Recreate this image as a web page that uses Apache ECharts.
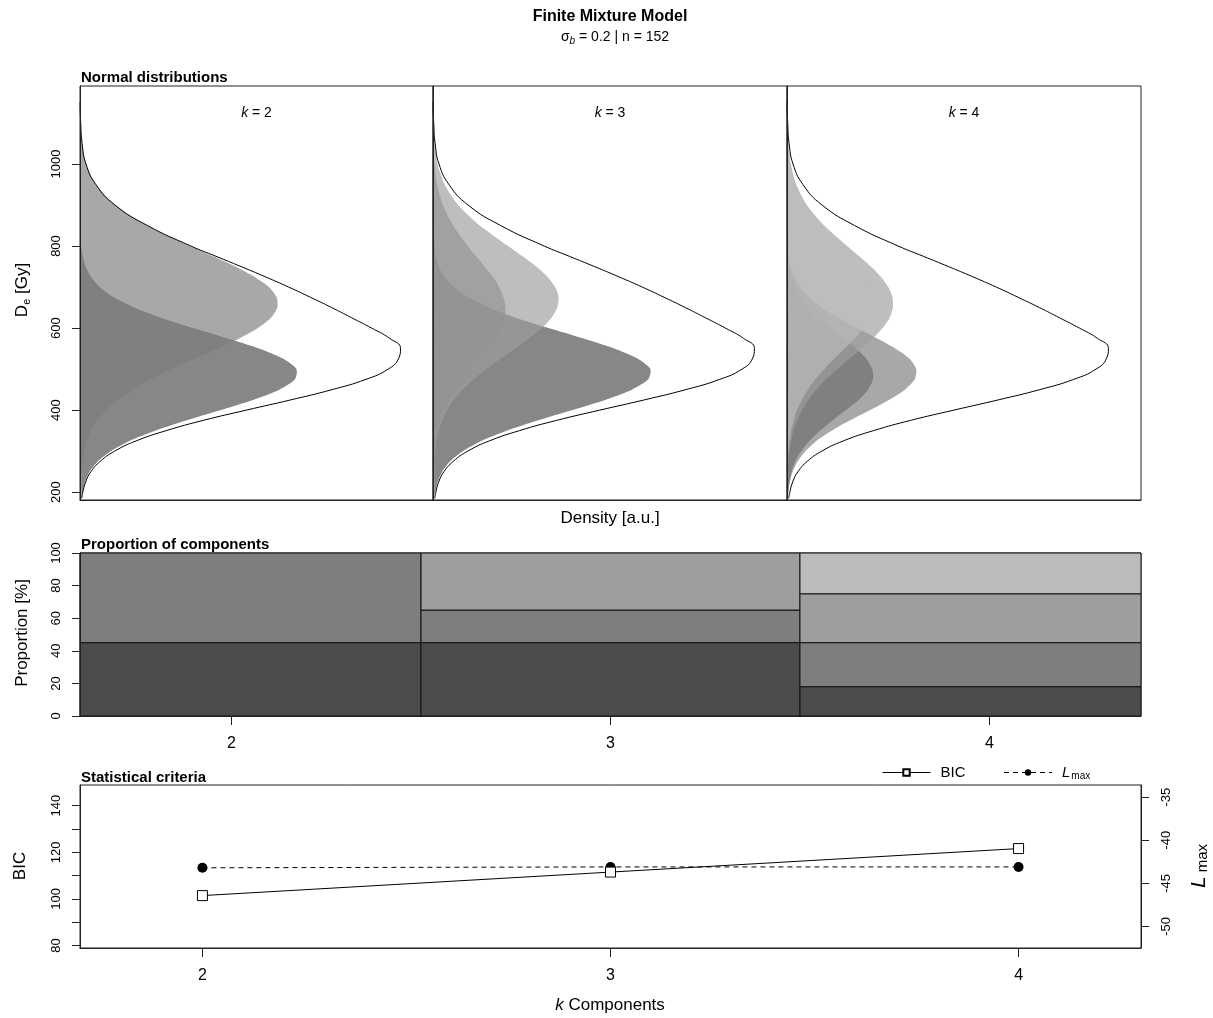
<!DOCTYPE html>
<html>
<head>
<meta charset="utf-8">
<script src="https://cdn.jsdelivr.net/npm/echarts@6/dist/echarts.min.js"></script>
<style>
  html, body { margin: 0; padding: 0; background: #fff; }
  #chart { width: 1213px; height: 1018px; }
</style>
</head>
<body>
<div id="chart"></div>
<script>
const deLevels = [185, 200, 225, 250, 275, 300, 325, 350, 375, 400, 425, 450, 475, 500, 525, 550, 575, 600, 625, 650, 675, 700, 725, 750, 775, 800, 850, 900, 950, 1000, 1050, 1100, 1150];

// black outline (sum of components), same in every panel; density as fraction of panel width
const sumDensity = [0.005, 0.008, 0.016, 0.031, 0.057, 0.098, 0.159, 0.244, 0.349, 0.471, 0.597, 0.714, 0.810, 0.873, 0.902, 0.908, 0.877, 0.826, 0.770, 0.713, 0.653, 0.591, 0.525, 0.456, 0.385, 0.314, 0.191, 0.099, 0.045, 0.017, 0.006, 0.002, 0.0004];

// k = 2
const k2Comp1 = [0.004, 0.007, 0.014, 0.027, 0.050, 0.087, 0.140, 0.213, 0.300, 0.397, 0.490, 0.565, 0.609, 0.613, 0.576, 0.507, 0.417, 0.320, 0.229, 0.154, 0.096, 0.056, 0.031, 0.016, 0.008, 0.003, 0.001, 0, 0, 0, 0, 0, 0];
const k2Comp2 = [0.001, 0.001, 0.002, 0.004, 0.007, 0.011, 0.019, 0.031, 0.049, 0.074, 0.107, 0.149, 0.201, 0.260, 0.324, 0.390, 0.452, 0.504, 0.541, 0.559, 0.557, 0.535, 0.494, 0.440, 0.377, 0.311, 0.190, 0.099, 0.045, 0.017, 0.006, 0.002, 0.0004];

// k = 3
const k3Comp1 = [0.004, 0.006, 0.013, 0.026, 0.048, 0.084, 0.136, 0.208, 0.295, 0.392, 0.486, 0.562, 0.608, 0.614, 0.579, 0.512, 0.423, 0.326, 0.234, 0.158, 0.099, 0.058, 0.032, 0.017, 0.008, 0.004, 0.001, 0, 0, 0, 0, 0, 0];
const k3Comp2 = [0.0003, 0.0005, 0.001, 0.002, 0.003, 0.005, 0.009, 0.014, 0.022, 0.033, 0.047, 0.064, 0.085, 0.108, 0.132, 0.156, 0.177, 0.193, 0.203, 0.205, 0.199, 0.187, 0.169, 0.146, 0.122, 0.098, 0.057, 0.028, 0.012, 0.004, 0.001, 0.0004, 0.0001];
const k3Comp3 = [0.0003, 0.0005, 0.001, 0.002, 0.003, 0.006, 0.010, 0.017, 0.026, 0.040, 0.059, 0.084, 0.115, 0.151, 0.191, 0.232, 0.272, 0.308, 0.335, 0.351, 0.355, 0.345, 0.323, 0.292, 0.253, 0.212, 0.132, 0.071, 0.033, 0.013, 0.005, 0.001, 0.0004];

// k = 4
const k4Comp1 = [0.002, 0.003, 0.007, 0.013, 0.023, 0.040, 0.063, 0.093, 0.128, 0.166, 0.202, 0.229, 0.243, 0.241, 0.224, 0.195, 0.159, 0.121, 0.086, 0.057, 0.036, 0.021, 0.011, 0.006, 0.003, 0.001, 0.0002, 0, 0, 0, 0, 0, 0];
const k4Comp2 = [0.003, 0.004, 0.008, 0.016, 0.030, 0.052, 0.083, 0.126, 0.177, 0.234, 0.288, 0.333, 0.361, 0.365, 0.346, 0.306, 0.254, 0.197, 0.143, 0.097, 0.062, 0.037, 0.020, 0.011, 0.005, 0.002, 0.0004, 0, 0, 0, 0, 0, 0];
const k4Comp3 = [0.0004, 0.0006, 0.001, 0.002, 0.004, 0.007, 0.012, 0.018, 0.028, 0.042, 0.060, 0.083, 0.111, 0.142, 0.176, 0.211, 0.243, 0.270, 0.290, 0.299, 0.298, 0.286, 0.265, 0.237, 0.204, 0.170, 0.105, 0.056, 0.026, 0.010, 0.004, 0.001, 0.0003];
const k4Comp4 = [0.0002, 0.0004, 0.001, 0.001, 0.002, 0.004, 0.007, 0.012, 0.019, 0.028, 0.042, 0.059, 0.080, 0.106, 0.133, 0.163, 0.192, 0.217, 0.237, 0.249, 0.253, 0.247, 0.233, 0.211, 0.185, 0.156, 0.099, 0.054, 0.026, 0.011, 0.004, 0.001, 0.0003];

// proportion of components [%], bottom to top
const kValues = [2, 3, 4];
const propK2 = [45, 55];
const propK3 = [45, 20, 35];
const propK4 = [18, 27, 30, 25];

// statistical criteria
const bicValues = [101.4, 111.5, 121.6];
const lmaxValues = [-43.2, -43.1, -43.1];

// tick labels
const deTicks = [200, 400, 600, 800, 1000];
const bicTicks = [80, 90, 100, 110, 120, 130, 140];
const bicLabels = [80, 100, 120, 140];
const lmaxTicks = [-50, -45, -40, -35];

const FONT = '"Liberation Sans", Arial, sans-serif';
const NARROW = '"Liberation Sans Narrow", "Arial Narrow", "Liberation Sans", sans-serif';
const INK = '#000';
const FRAME = '#222';
const COMP_COLORS = ['#4d4c4c', '#7f7e7c', '#9e9e9e', '#bcbcbc'];
const FILL_OPACITY = 0.67;

const DENS_TOP = 86, DENS_H = 414;
const panels = [
  { left: 80, width: 353, comps: [k2Comp1, k2Comp2], label: '2' },
  { left: 433, width: 354, comps: [k3Comp1, k3Comp2, k3Comp3], label: '3' },
  { left: 787, width: 354, comps: [k4Comp1, k4Comp2, k4Comp3, k4Comp4], label: '4' },
];

const chart = echarts.init(document.getElementById('chart'), null, { renderer: 'canvas' });

function densityFill(idx, values, color) {
  const pts = deLevels.map((de, i) => [values[i], de]);
  return {
    type: 'custom', xAxisIndex: idx, yAxisIndex: idx, silent: true, z: 2,
    data: pts,
    renderItem(params, api) {
      if (params.dataIndex !== 0) return null;
      const cs = params.coordSys;
      return {
        type: 'polygon',
        shape: {
          points: pts.map((p) => api.coord(p)),
          smooth: 0.25,
          smoothConstraint: [[cs.x, cs.y], [cs.x + cs.width, cs.y + cs.height]],
        },
        style: { fill: color, opacity: FILL_OPACITY },
      };
    },
  };
}

function densitySum(idx) {
  return {
    type: 'line', xAxisIndex: idx, yAxisIndex: idx, silent: true, z: 5,
    data: deLevels.map((de, i) => [sumDensity[i], de]),
    smooth: 0.5, showSymbol: false, symbol: 'none',
    lineStyle: { color: INK, width: 1 },
  };
}

const propData = [];
[propK2, propK3, propK4].forEach((props, j) => {
  let lo = 0;
  props.forEach((p, i) => { propData.push([kValues[j], lo, lo + p, i]); lo += p; });
});

const grids = panels.map((p) => ({
  left: p.left, top: DENS_TOP, width: p.width, height: DENS_H,
  show: true, borderColor: FRAME, borderWidth: 1,
}));
grids.push({ left: 80, top: 553, width: 1061, height: 163, show: true, borderColor: FRAME, borderWidth: 1 });
grids.push({ left: 80, top: 785, width: 1061, height: 163, show: true, borderColor: FRAME, borderWidth: 1 });

const tickLabel = { fontFamily: FONT, fontSize: 13, color: INK, formatter: (v) => String(v) };

const xAxes = panels.map((p, i) => ({
  type: 'value', gridIndex: i, min: 0, max: 1, z: 10,
  axisLine: { show: true, lineStyle: { color: FRAME } },
  axisTick: { show: false }, axisLabel: { show: false }, splitLine: { show: false },
}));
xAxes.push({
  type: 'value', gridIndex: 3, min: 1.6, max: 4.4, z: 10,
  axisLine: { show: true, lineStyle: { color: FRAME } },
  axisTick: { show: true, customValues: kValues, length: 9, lineStyle: { color: FRAME } },
  axisLabel: { customValues: kValues, margin: 20, fontFamily: NARROW, fontSize: 16, color: INK },
  splitLine: { show: false },
});
xAxes.push({
  type: 'value', gridIndex: 4, min: 1.7, max: 4.3, z: 10,
  axisLine: { show: true, lineStyle: { color: FRAME } },
  axisTick: { show: true, customValues: kValues, length: 9, lineStyle: { color: FRAME } },
  axisLabel: { customValues: kValues, margin: 20, fontFamily: NARROW, fontSize: 16, color: INK },
  splitLine: { show: false },
});

const yAxes = panels.map((p, i) => ({
  type: 'value', gridIndex: i, min: 181, max: 1190, z: 10,
  axisLine: { show: true, lineStyle: { color: FRAME } },
  axisTick: { show: i === 0, customValues: deTicks, length: 8, lineStyle: { color: FRAME } },
  axisLabel: { show: i === 0, customValues: deTicks, rotate: 90, margin: 17, ...tickLabel },
  splitLine: { show: false },
}));
yAxes.push({
  type: 'value', gridIndex: 3, min: 0, max: 100, interval: 20, z: 10,
  axisLine: { show: true, lineStyle: { color: FRAME } },
  axisTick: { show: true, length: 8, lineStyle: { color: FRAME } },
  axisLabel: { rotate: 90, margin: 17, ...tickLabel },
  splitLine: { show: false },
});
yAxes.push({
  type: 'value', gridIndex: 4, min: 78.9, max: 148.9, z: 10,
  axisLine: { show: true, lineStyle: { color: FRAME } },
  axisTick: { show: true, customValues: bicTicks, length: 8, lineStyle: { color: FRAME } },
  axisLabel: { customValues: bicLabels, rotate: 90, margin: 17, ...tickLabel },
  splitLine: { show: false },
});
yAxes.push({
  type: 'value', gridIndex: 4, position: 'right', min: -52.5, max: -33.6, z: 10,
  axisLine: { show: true, lineStyle: { color: FRAME } },
  axisTick: { show: true, customValues: lmaxTicks, length: 8, lineStyle: { color: FRAME } },
  axisLabel: { customValues: lmaxTicks, rotate: 90, margin: 19, ...tickLabel },
  splitLine: { show: false },
});

const series = [];
panels.forEach((p, i) => {
  // darkest component first, lighter ones drawn over it
  p.comps.forEach((vals, c) => series.push(densityFill(i, vals, COMP_COLORS[c])));
  series.push(densitySum(i));
});

series.push({
  type: 'custom', xAxisIndex: 3, yAxisIndex: 3, silent: true,
  data: propData,
  encode: { x: 0, y: [1, 2] },
  renderItem(params, api) {
    const k = api.value(0), lo = api.value(1), hi = api.value(2), ci = api.value(3);
    const p0 = api.coord([k - 0.5, hi]);
    const p1 = api.coord([k + 0.5, lo]);
    const cs = params.coordSys;
    const rect = echarts.graphic.clipRectByRect(
      { x: p0[0], y: p0[1], width: p1[0] - p0[0], height: p1[1] - p0[1] },
      { x: cs.x, y: cs.y, width: cs.width, height: cs.height }
    );
    return rect && { type: 'rect', shape: rect, style: { fill: COMP_COLORS[ci], stroke: '#111', lineWidth: 1 } };
  },
});

series.push({
  name: 'BIC', type: 'line', xAxisIndex: 4, yAxisIndex: 4, z: 5,
  data: kValues.map((k, i) => [k, bicValues[i]]),
  symbol: 'rect', symbolSize: 10,
  itemStyle: { color: '#fff', borderColor: INK, borderWidth: 1 },
  lineStyle: { color: INK, width: 1 },
});
series.push({
  name: 'Lmax', type: 'line', xAxisIndex: 4, yAxisIndex: 5, z: 4,
  data: kValues.map((k, i) => [k, lmaxValues[i]]),
  symbol: 'circle', symbolSize: 10,
  itemStyle: { color: INK },
  lineStyle: { color: INK, width: 1, type: [5, 4] },
});

function txt(x, y, text, extra) {
  return { type: 'text', x, y, silent: true, style: Object.assign({ text, fill: INK, align: 'center', verticalAlign: 'middle', font: `17px ${FONT}` }, extra) };
}

const graphic = [
  txt(610, 16.5, 'Finite Mixture Model', { font: `bold 16px ${FONT}` }),
  txt(615, 37.5, '{s|σ}{b|b}{t| = 0.2 | n = 152}', {
    font: `14px ${FONT}`,
    rich: {
      s: { fontSize: 14, fontFamily: FONT, lineHeight: 18, verticalAlign: 'middle' },
      b: { fontSize: 10, fontFamily: FONT, fontStyle: 'italic', lineHeight: 10, verticalAlign: 'bottom' },
      t: { fontSize: 14, fontFamily: FONT, lineHeight: 18, verticalAlign: 'middle' },
    },
  }),
  txt(81, 78, 'Normal distributions', { align: 'left', font: `bold 15px ${NARROW}` }),
  txt(610, 518, 'Density [a.u.]'),
  Object.assign(txt(22, 290, '{n|D}{s|e}{n| [Gy]}', {
    rich: {
      n: { fontSize: 17, fontFamily: FONT, lineHeight: 20, verticalAlign: 'middle' },
      s: { fontSize: 11, fontFamily: FONT, lineHeight: 11, verticalAlign: 'bottom' },
    },
  }), { rotation: Math.PI / 2 }),
  txt(81, 545, 'Proportion of components', { align: 'left', font: `bold 15px ${NARROW}` }),
  Object.assign(txt(22, 633, 'Proportion [%]'), { rotation: Math.PI / 2 }),
  txt(81, 777.5, 'Statistical criteria', { align: 'left', font: `bold 15px ${NARROW}` }),
  Object.assign(txt(20, 866, 'BIC'), { rotation: Math.PI / 2 }),
  Object.assign(txt(1199, 866, '{l|L}{m| max}', {
    rich: {
      l: { fontSize: 21, fontFamily: FONT, fontStyle: 'italic', lineHeight: 22, verticalAlign: 'bottom' },
      m: { fontSize: 15, fontFamily: FONT, lineHeight: 15, verticalAlign: 'bottom' },
    },
  }), { rotation: Math.PI / 2 }),
  txt(610, 1005, '{i|k}{n| Components}', {
    rich: {
      i: { fontSize: 17, fontFamily: FONT, fontStyle: 'italic' },
      n: { fontSize: 17, fontFamily: FONT },
    },
  }),
];
panels.forEach((p) => {
  graphic.push(txt(p.left + p.width / 2, 113.5, `{i|k}{n| = ${p.label}}`, {
    rich: {
      i: { fontSize: 14, fontFamily: FONT, fontStyle: 'italic' },
      n: { fontSize: 14, fontFamily: FONT },
    },
  }));
});

chart.setOption({
  backgroundColor: '#fff',
  animation: false,
  grid: grids,
  xAxis: xAxes,
  yAxis: yAxes,
  legend: {
    left: 877, top: 760, itemWidth: 48, itemHeight: 8, itemGap: 38,
    selectedMode: false,
    data: ['BIC', 'Lmax'],
    lineStyle: { width: 1 },
    formatter: (name) => (name === 'BIC' ? 'BIC' : '{l|L}{m|max}'),
    textStyle: {
      fontFamily: NARROW, fontSize: 15, color: INK, padding: [0, 0, 0, 5],
      rich: {
        l: { fontFamily: FONT, fontSize: 15, fontStyle: 'italic' },
        m: { fontFamily: NARROW, fontSize: 10, padding: [7, 0, 0, 1] },
      },
    },
  },
  series,
  graphic,
});
</script>
</body>
</html>
